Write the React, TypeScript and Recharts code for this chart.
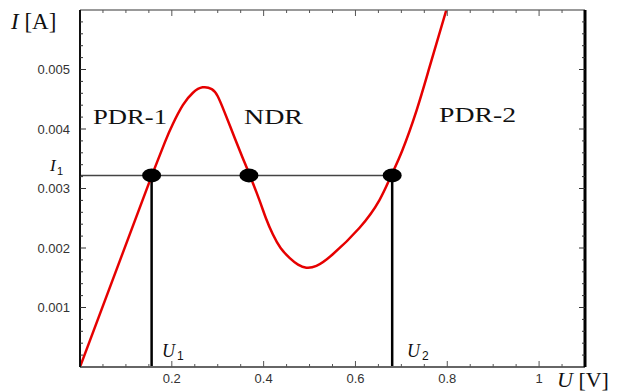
import {
  ComposedChart,
  Line,
  Scatter,
  XAxis,
  YAxis,
  ReferenceLine,
  Customized,
} from "recharts";

// I-U curve (U in volts, I in amperes)
// straight ohmic start
const startU = [0, 0.1565];
const startI = [0, 0.00322];
// smooth part through the NDR region
const curveU = [
  0.1565, 0.185, 0.202, 0.224, 0.246, 0.267, 0.287, 0.3, 0.315, 0.337, 0.354,
  0.37, 0.391, 0.405, 0.42, 0.437, 0.457, 0.475, 0.493, 0.515, 0.55, 0.609,
  0.652, 0.678, 0.702, 0.733, 0.761, 0.798,
];
const curveI = [
  0.00322, 0.00378, 0.00408, 0.0044, 0.00461, 0.0047, 0.00467, 0.00455,
  0.00428, 0.00385, 0.00352, 0.00322, 0.0028, 0.0025, 0.00223, 0.002, 0.00183,
  0.00172, 0.00167, 0.0017, 0.00189, 0.00234, 0.0028, 0.00322, 0.00364,
  0.00431, 0.00503, 0.006,
];

const I1 = 0.00322;
const U1 = 0.156;
const U2 = 0.68;
const crossU = [U1, 0.368, U2];

const xTicks = [
  0.05, 0.1, 0.15, 0.2, 0.25, 0.3, 0.35, 0.4, 0.45, 0.5, 0.55, 0.6, 0.65, 0.7,
  0.75, 0.8, 0.85, 0.9, 0.95, 1, 1.05,
];
const xLabels = ["0.2", "0.4", "0.6", "0.8", "1"];
const yTicks = [
  0.0002, 0.0004, 0.0006, 0.0008, 0.001, 0.0012, 0.0014, 0.0016, 0.0018, 0.002,
  0.0022, 0.0024, 0.0026, 0.0028, 0.003, 0.0032, 0.0034, 0.0036, 0.0038, 0.004,
  0.0042, 0.0044, 0.0046, 0.0048, 0.005, 0.0052, 0.0054, 0.0056, 0.0058,
];
const yLabels = ["0.001", "0.002", "0.003", "0.004", "0.005"];

const start = startU.map((u, k) => ({ u, i: startI[k] }));
const curve = curveU.map((u, k) => ({ u, i: curveI[k] }));
const points = crossU.map((u) => ({ u, i: I1 }));

const tickFont = { fontFamily: "Liberation Sans, Arial, sans-serif", fontSize: 13, fill: "#333" };
const serif = "Liberation Serif, Times New Roman, serif";

const isMajorX = (v: number) => Math.abs(v * 5 - Math.round(v * 5)) < 1e-6;
const isMajorY = (v: number) => Math.abs(v * 1000 - Math.round(v * 1000)) < 1e-6;

function fmtX(v: number) {
  return xLabels[Math.round(v * 5) - 1];
}
function fmtY(v: number) {
  return yLabels[Math.round(v * 1000) - 1];
}

function BottomTick({ x, y, payload }: any) {
  const major = isMajorX(payload.value);
  return (
    <g>
      <line x1={x} y1={y} x2={x} y2={y - (major ? 6 : 3)} stroke="#555" strokeWidth={1} />
      {major && (
        <text x={x} y={y + 16} textAnchor="middle" {...tickFont}>
          {fmtX(payload.value)}
        </text>
      )}
    </g>
  );
}

function TopTick({ x, y, payload }: any) {
  const major = isMajorX(payload.value);
  return <line x1={x} y1={y} x2={x} y2={y + (major ? 6 : 3)} stroke="#555" strokeWidth={1} />;
}

function LeftTick({ x, y, payload }: any) {
  const major = isMajorY(payload.value);
  return (
    <g>
      <line x1={x} y1={y} x2={x + (major ? 6 : 3)} y2={y} stroke="#333" strokeWidth={1} />
      {major && (
        <text x={x - 10} y={y + 4.5} textAnchor="end" {...tickFont}>
          {fmtY(payload.value)}
        </text>
      )}
    </g>
  );
}

function RightTick({ x, y, payload }: any) {
  const major = isMajorY(payload.value);
  return <line x1={x} y1={y} x2={x - (major ? 6 : 3)} y2={y} stroke="#333" strokeWidth={1} />;
}

function Ellipse({ cx, cy }: any) {
  return <ellipse cx={cx} cy={cy} rx={9.5} ry={7} fill="#000" />;
}

function Annotations() {
  return (
    <g>
      <text x={11} y={29} fontFamily={serif} fontSize={23} fill="#111">
        <tspan fontStyle="italic">I</tspan> [A]
      </text>
      <text x={557} y={387} fontFamily={serif} fontSize={22} fill="#111">
        <tspan fontStyle="italic">U</tspan> [V]
      </text>
      <text x={93} y={124} fontFamily={serif} fontSize={21} fill="#111" textLength={74} lengthAdjust="spacingAndGlyphs">
        PDR-1
      </text>
      <text x={244} y={124} fontFamily={serif} fontSize={21} fill="#111" textLength={59} lengthAdjust="spacingAndGlyphs">
        NDR
      </text>
      <text x={439} y={122} fontFamily={serif} fontSize={21} fill="#111" textLength={77} lengthAdjust="spacingAndGlyphs">
        PDR-2
      </text>
      <text x={50} y={171} fontFamily={serif} fontSize={17} fontStyle="italic" fill="#111">
        I
      </text>
      <text x={57} y={175} {...tickFont} fontSize={11} fill="#111">
        1
      </text>
      <text x={162} y={357} fontFamily={serif} fontSize={18} fontStyle="italic" fill="#111">
        U
      </text>
      <text x={177} y={360} {...tickFont} fontSize={12} fill="#111">
        1
      </text>
      <text x={407} y={357} fontFamily={serif} fontSize={18} fontStyle="italic" fill="#111">
        U
      </text>
      <text x={422} y={360} {...tickFont} fontSize={12} fill="#111">
        2
      </text>
    </g>
  );
}

export default function App() {
  return (
    <div style={{ position: "absolute", left: 0, top: 0, background: "#fff" }}>
      <ComposedChart width={633} height={391} margin={{ top: 9, right: 47, bottom: 0, left: 0 }}>
        <XAxis
          dataKey="u"
          type="number"
          domain={[0, 1.1]}
          allowDataOverflow
          ticks={xTicks}
          interval={0}
          height={24}
          tickSize={0}
          tickMargin={0}
          tickLine={false}
          tick={<BottomTick />}
          axisLine={{ stroke: "#666", strokeWidth: 2 }}
        />
        <XAxis
          xAxisId="top"
          orientation="top"
          dataKey="u"
          type="number"
          domain={[0, 1.1]}
          allowDataOverflow
          ticks={xTicks}
          interval={0}
          height={1}
          tickSize={0}
          tickMargin={0}
          tickLine={false}
          tick={<TopTick />}
          axisLine={{ stroke: "#777", strokeWidth: 1.5 }}
        />
        <YAxis
          dataKey="i"
          type="number"
          domain={[0, 0.006]}
          allowDataOverflow
          ticks={yTicks}
          interval={0}
          width={80}
          tickSize={0}
          tickMargin={0}
          tickLine={false}
          tick={<LeftTick />}
          axisLine={{ stroke: "#111", strokeWidth: 2 }}
        />
        <YAxis
          yAxisId="right"
          orientation="right"
          dataKey="i"
          type="number"
          domain={[0, 0.006]}
          allowDataOverflow
          ticks={yTicks}
          interval={0}
          width={1}
          tickSize={0}
          tickMargin={0}
          tickLine={false}
          tick={<RightTick />}
          axisLine={{ stroke: "#000", strokeWidth: 3 }}
        />
        {/* transparent series so the frame axes on top and right get drawn */}
        <Line
          xAxisId="top"
          yAxisId="right"
          data={start}
          dataKey="i"
          stroke="#fff"
          strokeOpacity={0}
          dot={false}
          activeDot={false}
          isAnimationActive={false}
        />
        <ReferenceLine
          segment={[
            { x: 0, y: I1 },
            { x: U2, y: I1 },
          ]}
          stroke="#444"
          strokeWidth={1.5}
        />
        <ReferenceLine
          segment={[
            { x: U1, y: 0 },
            { x: U1, y: I1 },
          ]}
          stroke="#000"
          strokeWidth={2.5}
        />
        <ReferenceLine
          segment={[
            { x: U2, y: 0 },
            { x: U2, y: I1 },
          ]}
          stroke="#000"
          strokeWidth={2.5}
        />
        <Line
          data={start}
          dataKey="i"
          type="linear"
          stroke="#e60000"
          strokeWidth={2.5}
          dot={false}
          isAnimationActive={false}
        />
        <Line
          data={curve}
          dataKey="i"
          type="natural"
          stroke="#e60000"
          strokeWidth={2.5}
          dot={false}
          isAnimationActive={false}
        />
        <Scatter data={points} dataKey="i" shape={<Ellipse />} isAnimationActive={false} />
        <Customized component={<Annotations />} />
      </ComposedChart>
    </div>
  );
}
